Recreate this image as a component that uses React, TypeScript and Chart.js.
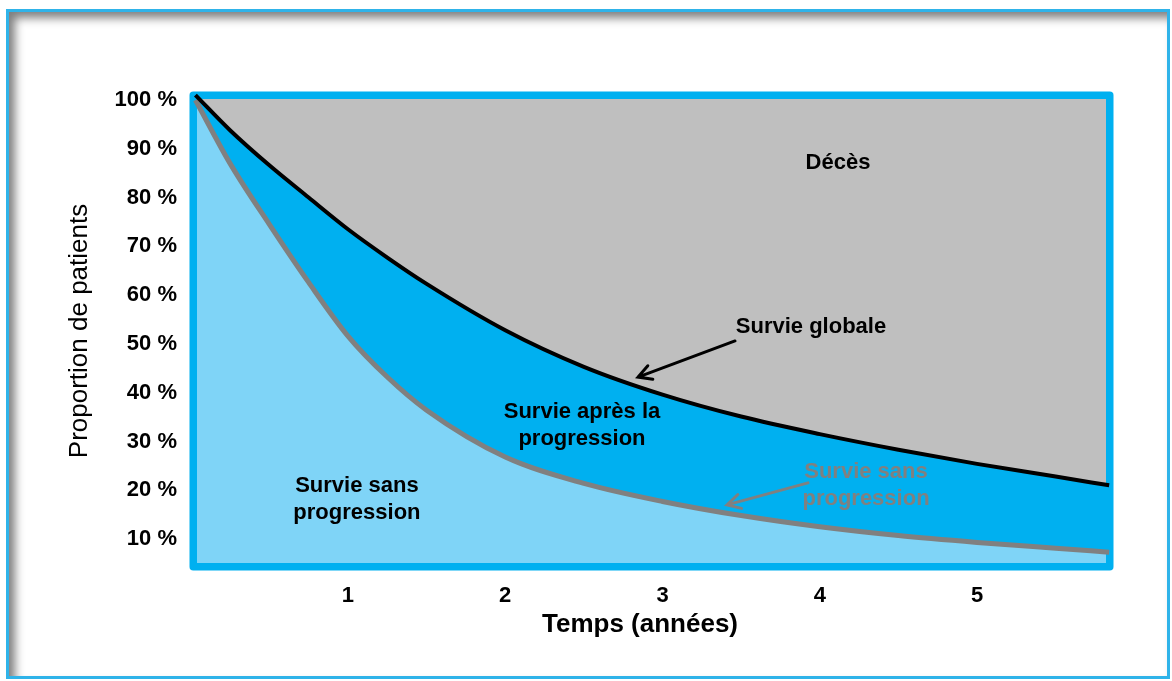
import React, { useEffect, useRef } from "react";
import { Chart, registerables } from "chart.js";

Chart.register(...registerables);

// ---- data ----
const years = [0.03, 0.25, 0.5, 0.75, 1, 1.25, 1.5, 2, 2.5, 3, 3.5, 4, 4.5, 5, 5.5, 5.84];
const overallSurvival = [101, 93.8, 86.6, 80.0, 73.5, 67.7, 62.3, 52.8, 45.3, 39.6, 35.1, 31.5, 28.3, 25.4, 22.8, 21.0];
const progressionFreeSurvival = [100, 87.0, 74.5, 62.6, 51.6, 43.2, 36.4, 26.8, 21.4, 17.7, 14.8, 12.5, 10.7, 9.3, 8.1, 7.3];
const xTickValues = [1, 2, 3, 4, 5];
const yTickValues = [10, 20, 30, 40, 50, 60, 70, 80, 90, 100];

const xAxisTitle = "Temps (années)";
const yAxisTitle = "Proportion de patients";

// labels in data coordinates
const areaLabels = [
  { lines: ["Décès"], x: 4.116, y: 87.1, color: "#000000" },
  { lines: ["Survie globale"], x: 3.944, y: 53.5, color: "#000000" },
  { lines: ["Survie après la", "progression"], x: 2.488, y: 36.0, color: "#000000" },
  { lines: ["Survie sans", "progression"], x: 1.057, y: 20.9, color: "#000000" },
  { lines: ["Survie sans", "progression"], x: 4.294, y: 23.8, color: "#808080" },
];
const arrows = [
  { from: [3.461, 50.6], to: [2.844, 43.2], color: "#000000" },
  { from: [3.925, 21.5], to: [3.41, 17.0], color: "#808080" },
];

const FONT = "'Liberation Sans', Arial, sans-serif";

const decorPlugin = {
  id: "decor",
  beforeDraw(chart: any) {
    const { ctx, chartArea: a, width, height } = chart;
    ctx.save();
    ctx.fillStyle = "#ffffff";
    ctx.fillRect(0, 0, width, height);
    // inner shadow of outer frame
    ctx.save();
    ctx.beginPath();
    ctx.rect(9, 12, 1159, 666);
    ctx.clip();
    ctx.shadowColor = "rgba(0,0,0,0.5)";
    ctx.shadowBlur = 10;
    ctx.shadowOffsetX = 6;
    ctx.shadowOffsetY = 6;
    ctx.lineWidth = 20;
    ctx.strokeStyle = "#888888";
    ctx.strokeRect(-1, 2, 1179, 686);
    ctx.restore();
    // outer frame
    ctx.lineWidth = 3;
    ctx.strokeStyle = "#2FB3E9";
    ctx.strokeRect(7.5, 10.5, 1161, 667);
    // plot background
    ctx.fillStyle = "#BFBFBF";
    ctx.fillRect(a.left, a.top, a.right - a.left, a.bottom - a.top);
    // plot border
    ctx.lineWidth = 7.5;
    ctx.strokeStyle = "#00B0F0";
    ctx.lineJoin = "round";
    ctx.strokeRect(a.left - 3.75, a.top - 3.75, a.right - a.left + 7.5, a.bottom - a.top + 7.5);
    ctx.restore();
  },
  afterDatasetsDraw(chart: any) {
    const { ctx, scales } = chart;
    const xs = scales.x;
    const ys = scales.y;
    ctx.save();
    ctx.font = `bold 22px ${FONT}`;
    ctx.textAlign = "center";
    ctx.textBaseline = "middle";
    for (const l of areaLabels) {
      const px = xs.getPixelForValue(l.x);
      const py = ys.getPixelForValue(l.y);
      ctx.fillStyle = l.color;
      l.lines.forEach((t, i) => ctx.fillText(t, px, py + i * 27));
    }
    for (const ar of arrows) {
      const x1 = xs.getPixelForValue(ar.from[0]);
      const y1 = ys.getPixelForValue(ar.from[1]);
      const x2 = xs.getPixelForValue(ar.to[0]);
      const y2 = ys.getPixelForValue(ar.to[1]);
      ctx.strokeStyle = ar.color;
      ctx.lineWidth = 3;
      ctx.lineCap = "round";
      ctx.beginPath();
      ctx.moveTo(x1, y1);
      ctx.lineTo(x2, y2);
      const ang = Math.atan2(y1 - y2, x1 - x2);
      const len = 15;
      ctx.moveTo(x2 + len * Math.cos(ang + 0.5), y2 + len * Math.sin(ang + 0.5));
      ctx.lineTo(x2, y2);
      ctx.lineTo(x2 + len * Math.cos(ang - 0.5), y2 + len * Math.sin(ang - 0.5));
      ctx.stroke();
    }
    // axis titles
    ctx.fillStyle = "#000000";
    ctx.font = `bold 26px ${FONT}`;
    ctx.fillText(xAxisTitle, 640, 625);
    ctx.save();
    ctx.translate(80, 331);
    ctx.rotate(-Math.PI / 2);
    ctx.font = `26px ${FONT}`;
    ctx.fillText(yAxisTitle, 0, 0);
    ctx.restore();
    ctx.restore();
  },
};

export default function App() {
  const ref = useRef<HTMLCanvasElement | null>(null);
  useEffect(() => {
    document.body.style.margin = "0";
    if (!ref.current) return;
    const chart = new Chart(ref.current, {
      type: "line",
      data: {
        datasets: [
          {
            label: "Survie globale",
            data: years.map((x, i) => ({ x, y: overallSurvival[i] })),
            borderColor: "#000000",
            borderWidth: 4,
            pointRadius: 0,
            cubicInterpolationMode: "monotone",
            fill: { target: 1 },
            backgroundColor: "#00B0F0",
            clip: false as any,
          },
          {
            label: "Survie sans progression",
            data: years.map((x, i) => ({ x, y: progressionFreeSurvival[i] })),
            borderColor: "#808080",
            borderWidth: 5,
            pointRadius: 0,
            cubicInterpolationMode: "monotone",
            fill: "start",
            backgroundColor: "#7FD4F7",
            clip: false as any,
          },
        ],
      },
      options: {
        responsive: false,
        animation: false,
        layout: { padding: { left: 0, top: 99, right: 66, bottom: 0 } },
        plugins: {
          legend: { display: false },
          tooltip: { enabled: false },
          filler: { drawTime: "beforeDatasetsDraw" } as any,
        },
        scales: {
          x: {
            type: "linear",
            min: 0.04,
            max: 5.82,
            grid: { display: false, drawTicks: false },
            border: { display: false },
            afterBuildTicks: (s: any) => {
              s.ticks = xTickValues.map((v) => ({ value: v }));
            },
            afterFit: (s: any) => {
              s.height = 118;
            },
            ticks: {
              color: "#000000",
              padding: 20,
              font: { family: FONT, size: 22, weight: "bold" },
              callback: (v: any) => String(v),
            },
          },
          y: {
            type: "linear",
            min: 5.08,
            max: 100.2,
            grid: { display: false, drawTicks: false },
            border: { display: false },
            afterBuildTicks: (s: any) => {
              s.ticks = yTickValues.map((v) => ({ value: v }));
            },
            afterFit: (s: any) => {
              s.width = 197;
            },
            ticks: {
              color: "#000000",
              padding: 20,
              font: { family: FONT, size: 22, weight: "bold" },
              callback: (v: any) => `${v} %`,
            },
          },
        },
      },
      plugins: [decorPlugin],
    });
    return () => chart.destroy();
  }, []);
  return <canvas ref={ref} width={1172} height={681} style={{ display: "block" }} />;
}
